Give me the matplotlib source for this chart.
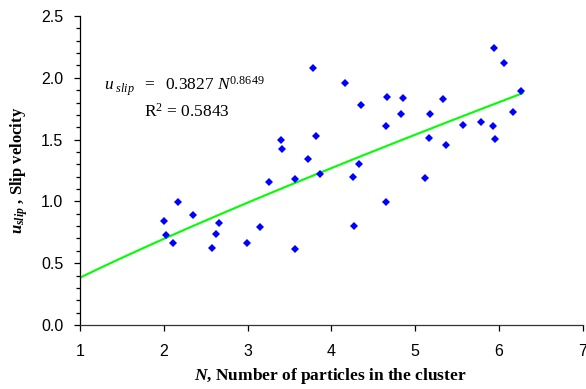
import numpy as np
import matplotlib
matplotlib.use("Agg")
import matplotlib.pyplot as plt
from matplotlib.ticker import MultipleLocator

# Data
N = [2.008, 2.032, 2.111, 2.174, 2.352, 2.581, 2.625, 2.656, 2.988, 3.154,
     3.257, 3.395, 3.410, 3.565, 3.570, 3.720, 3.780, 3.820, 3.870, 4.158,
     4.257, 4.270, 4.332, 4.348, 4.648, 4.648, 4.668, 4.830, 4.858, 5.123,
     5.170, 5.178, 5.328, 5.368, 5.573, 5.787, 5.930, 5.937, 5.957, 6.063,
     6.163, 6.265]
u_slip = [0.840, 0.732, 0.662, 0.999, 0.894, 0.621, 0.740, 0.824, 0.662, 0.792,
          1.159, 1.500, 1.424, 1.180, 0.613, 1.343, 2.083, 1.530, 1.224, 1.955,
          1.197, 0.802, 1.305, 1.777, 1.610, 0.999, 1.842, 1.707, 1.837, 1.191,
          1.515, 1.710, 1.829, 1.453, 1.618, 1.639, 1.613, 2.240, 1.502, 2.118,
          1.720, 1.896]

# Power-law trendline coefficients shown on the chart
fit_a = 0.3827
fit_b = 0.8649
fit_range = (1.0, 6.28)

x_ticks = [1, 2, 3, 4, 5, 6, 7]
y_ticks = [0.0, 0.5, 1.0, 1.5, 2.0, 2.5]

plt.rcParams["mathtext.fontset"] = "custom"
plt.rcParams["mathtext.rm"] = "Liberation Serif"
plt.rcParams["mathtext.it"] = "Liberation Serif:italic"
plt.rcParams["mathtext.bf"] = "Liberation Serif:bold:italic"

fig = plt.figure(figsize=(5.86, 3.89), dpi=100)
ax = fig.add_axes([0.1365, 0.1645, 0.858, 0.7944])

Nf = np.linspace(fit_range[0], fit_range[1], 200)
ax.plot(Nf, fit_a * Nf ** fit_b, color="#00FF00", lw=1.5, zorder=2)
ax.plot(N, u_slip, linestyle="none", marker="D", ms=3.8, color="#0000FF",
        markeredgewidth=0, zorder=3)

ax.set_xlim(1, 7)
ax.set_ylim(0, 2.5)
ax.set_xticks(x_ticks)
ax.set_yticks(y_ticks)
ax.set_xticklabels([str(t) for t in x_ticks], fontsize=11.5, family="Liberation Sans")
ax.set_yticklabels([f"{t:.1f}" for t in y_ticks], fontsize=11.5, family="Liberation Sans")
ax.yaxis.set_minor_locator(MultipleLocator(0.1))
ax.tick_params(axis="both", which="major", direction="out", length=4, width=0.9)
ax.tick_params(axis="y", which="major", pad=8)
ax.tick_params(axis="y", which="minor", direction="out", length=3, width=0.9)
ax.tick_params(axis="x", pad=9.5)

for s in ["top", "right"]:
    ax.spines[s].set_visible(False)
ax.spines["left"].set_linewidth(0.9)
ax.spines["bottom"].set_linewidth(0.9)
ax.spines["bottom"].set_color("#333333")

ax.set_xlabel(r"$\mathbf{N}$, Number of particles in the cluster",
              fontsize=12.5, fontweight="bold", family="Liberation Serif")
ax.set_ylabel(r"$\mathbf{u}_{\mathbf{slip}}$ , Slip velocity",
              fontsize=12, fontweight="bold", family="Liberation Serif")
ax.xaxis.set_label_coords(0.498, -0.133)
ax.yaxis.set_label_coords(-0.10, 0.5)

ax.text(0.048, 0.773, r"$u_{\ slip}\ \ \mathrm{=}\ \ \mathrm{0.3827}\ N^{\mathrm{0.8649}}$",
        transform=ax.transAxes, fontsize=12.5, family="Liberation Serif",
        va="center", ha="left")
ax.text(0.127, 0.689, r"R$^2$ = 0.5843", transform=ax.transAxes, fontsize=12.5,
        family="Liberation Serif", va="center", ha="left")

fig.savefig("out.png", dpi=100)
